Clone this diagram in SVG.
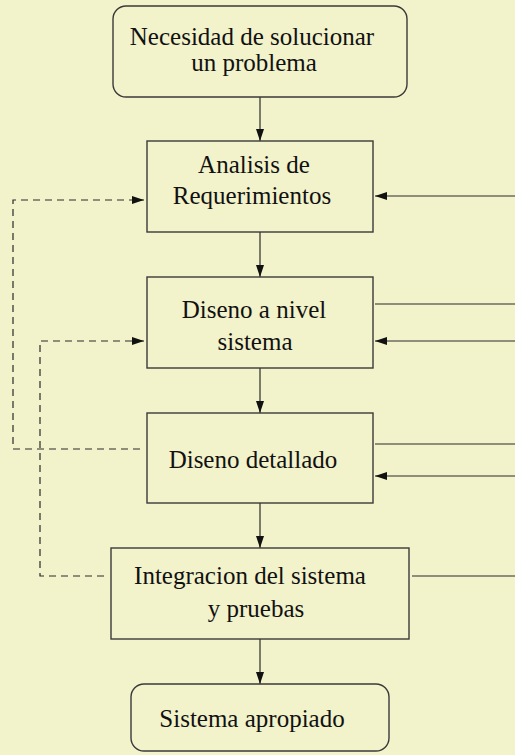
<svg xmlns="http://www.w3.org/2000/svg" width="515" height="755" viewBox="0 0 515 755">
<style>
.bx{fill:none;stroke:#3a3a3a;stroke-width:1.4}
.ln{fill:none;stroke:#2a2a2a;stroke-width:1.2}
.ds{fill:none;stroke:#2a2a2a;stroke-width:1.2;stroke-dasharray:7,5}
text{font-family:"Liberation Serif","Times New Roman",serif;font-size:25px;fill:#111;text-anchor:middle}
</style>
<defs>
<marker id="ah" viewBox="0 0 12 8" refX="12" refY="4" markerWidth="12" markerHeight="8" markerUnits="userSpaceOnUse" orient="auto">
<path d="M0,0 L12,4 L0,8 Z" fill="#111"/>
</marker>
</defs>
<rect width="515" height="755" fill="#f2f2cb"/>
<g id="connectors">
<line class="ln" x1="260" y1="97" x2="260" y2="141" marker-end="url(#ah)"/>
<line class="ln" x1="260" y1="232" x2="260" y2="277" marker-end="url(#ah)"/>
<line class="ln" x1="260" y1="368" x2="260" y2="413" marker-end="url(#ah)"/>
<line class="ln" x1="260" y1="503" x2="260" y2="548" marker-end="url(#ah)"/>
<line class="ln" x1="260" y1="639" x2="260" y2="684" marker-end="url(#ah)"/>
<line class="ln" x1="515" y1="196" x2="375" y2="196" marker-end="url(#ah)"/>
<line class="ln" x1="375" y1="304" x2="515" y2="304"/>
<line class="ln" x1="515" y1="341" x2="375" y2="341" marker-end="url(#ah)"/>
<line class="ln" x1="375" y1="444" x2="515" y2="444"/>
<line class="ln" x1="515" y1="476" x2="375" y2="476" marker-end="url(#ah)"/>
<line class="ln" x1="412" y1="576" x2="515" y2="576"/>
<polyline class="ds" points="140,449 13,449 13,200 144,200" marker-end="url(#ah)"/>
<polyline class="ds" points="104,576 40,576 40,341 144,341" marker-end="url(#ah)"/>
</g>
<g id="n1">
<rect class="bx" x="113" y="6" width="294" height="91" rx="13"/>
<text x="252" y="45">Necesidad de solucionar</text>
<text x="254" y="71">un problema</text>
</g>
<g id="n2">
<rect class="bx" x="147" y="141" width="226" height="91"/>
<text x="254" y="173">Analisis de</text>
<text x="252" y="204">Requerimientos</text>
</g>
<g id="n3">
<rect class="bx" x="147" y="277" width="226" height="91"/>
<text x="254" y="318">Diseno a nivel</text>
<text x="255" y="350">sistema</text>
</g>
<g id="n4">
<rect class="bx" x="147" y="413" width="226" height="90"/>
<text x="253" y="468">Diseno detallado</text>
</g>
<g id="n5">
<rect class="bx" x="111" y="548" width="298" height="91"/>
<text x="250" y="584">Integracion del sistema</text>
<text x="256" y="617">y pruebas</text>
</g>
<g id="n6">
<rect class="bx" x="131" y="684" width="258" height="67" rx="13"/>
<text x="252" y="727">Sistema apropiado</text>
</g>
</svg>
